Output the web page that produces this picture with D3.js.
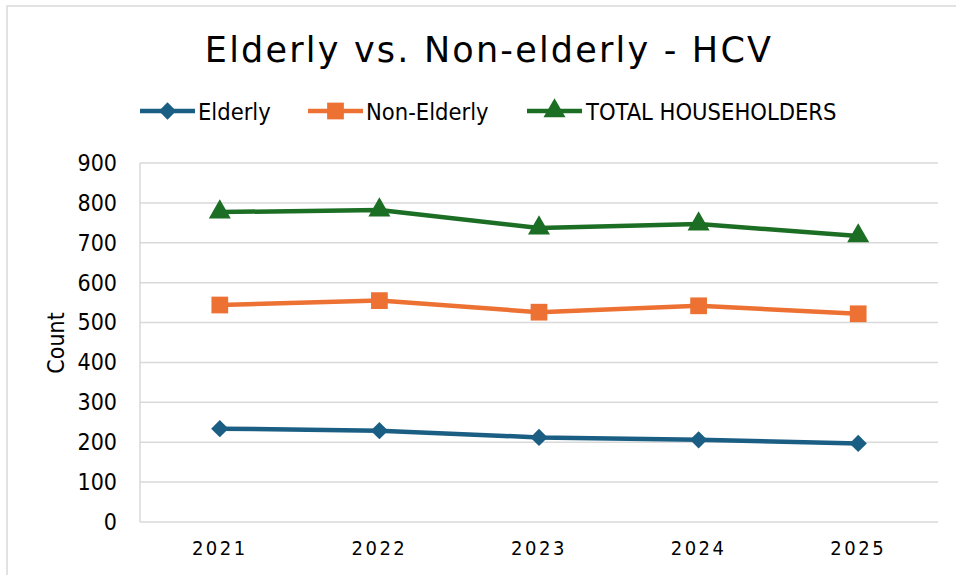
<!DOCTYPE html>
<html><head><meta charset="utf-8">
<script src="https://cdn.jsdelivr.net/npm/d3@7"></script>
<style>body{margin:0;background:#fff}svg{display:block}</style>
</head><body><svg id="c" width="956" height="575"></svg>
<script>
const categories = ["2021","2022","2023","2024","2025"];
const elderly = [234, 229, 212, 206, 197];
const nonElderly = [544, 555, 526, 542, 522];
const totalHouseholders = [777, 782, 737, 747, 717];
const yTicks = [0,100,200,300,400,500,600,700,800,900];
const seriesNames = ["Elderly","Non-Elderly","TOTAL HOUSEHOLDERS"];
const colors = ["#1a5e84","#ed7132","#1c6e25"];
const symbols = [d3.symbolSquare, d3.symbolSquare, d3.symbolTriangle];
const rotations = [45, 0, 0];
const symSizes = [150, 280, 210];

const series = [elderly, nonElderly, totalHouseholders].map((v,i)=>({name:seriesNames[i], values:v, color:colors[i], symbol:symbols[i], rot:rotations[i], size:symSizes[i]}));

const svg = d3.select("#c");
svg.append("rect").attr("x",7).attr("y",6).attr("width",960).attr("height",580).attr("fill","#fff").attr("stroke","#d9d9d9").attr("stroke-width",1.5);

const L=140,R=938,T=163,B=522;
const x = d3.scaleBand().domain(categories).range([L,R]);
const y = d3.scaleLinear().domain([0,900]).range([B,T]);

// gridlines
svg.append("g").selectAll("line").data(yTicks).join("line")
  .attr("x1",L).attr("x2",R).attr("y1",d=>y(d)).attr("y2",d=>y(d))
  .attr("stroke","#d9d9d9").attr("stroke-width",1.5);
svg.append("line").attr("x1",L).attr("x2",L).attr("y1",T).attr("y2",B).attr("stroke","#d9d9d9").attr("stroke-width",1.5);

// y axis
const yAxis = svg.append("g").attr("transform",`translate(${L},0)`).call(d3.axisLeft(y).tickValues(yTicks).tickSize(0).tickPadding(23));
yAxis.select(".domain").remove();
yAxis.selectAll("text").attr("font-family","'DejaVu Sans Condensed', 'DejaVu Sans', sans-serif").attr("font-size",23).attr("fill","#000");

// x axis
const xAxis = svg.append("g").attr("transform",`translate(0,${B})`).call(d3.axisBottom(x).tickSize(0).tickPadding(19));
xAxis.select(".domain").remove();
xAxis.selectAll("text").attr("font-family","'DejaVu Sans Condensed', 'DejaVu Sans', sans-serif").attr("font-size",20).attr("letter-spacing","2.5px").attr("fill","#000");

// y label
svg.append("text").attr("transform","translate(64,343) rotate(-90)").attr("text-anchor","middle")
  .attr("font-family","'DejaVu Sans Condensed', 'DejaVu Sans', sans-serif").attr("font-size",23).text("Count");

// title
svg.append("text").attr("x",489).attr("y",62).attr("text-anchor","middle")
  .attr("font-family","'DejaVu Sans', sans-serif").attr("font-size",35).attr("letter-spacing","2.2px").attr("fill","#000")
  .text("Elderly vs. Non-elderly - HCV");

const line = d3.line().x((d,i)=>x(categories[i])+x.bandwidth()/2).y(d=>y(d));
const sym = (s)=> d3.symbol().type(s.symbol).size(s.size);

series.forEach(s=>{
  svg.append("path").attr("d",line(s.values)).attr("fill","none").attr("stroke",s.color).attr("stroke-width",4.5).attr("stroke-linejoin","round");
  svg.append("g").selectAll("path").data(s.values).join("path")
    .attr("transform",(d,i)=>`translate(${x(categories[i])+x.bandwidth()/2},${y(d)}) rotate(${s.rot})`)
    .attr("d",sym(s)).attr("fill",s.color);
});

// legend
const legendPos = [{lx:140,tx:198},{lx:308,tx:366},{lx:527,tx:586}];
series.forEach((s,i)=>{
  const g = svg.append("g");
  const p = legendPos[i];
  g.append("line").attr("x1",p.lx).attr("x2",p.lx+55).attr("y1",111).attr("y2",111).attr("stroke",s.color).attr("stroke-width",4.5);
  g.append("path").attr("transform",`translate(${p.lx+27.5},111) rotate(${s.rot})`).attr("d",sym(s)).attr("fill",s.color);
  g.append("text").attr("x",p.tx).attr("y",119.5).attr("font-family","'DejaVu Sans Condensed', 'DejaVu Sans', sans-serif").attr("font-size",23.5).attr("fill","#000").text(s.name);
});
</script></body></html>
